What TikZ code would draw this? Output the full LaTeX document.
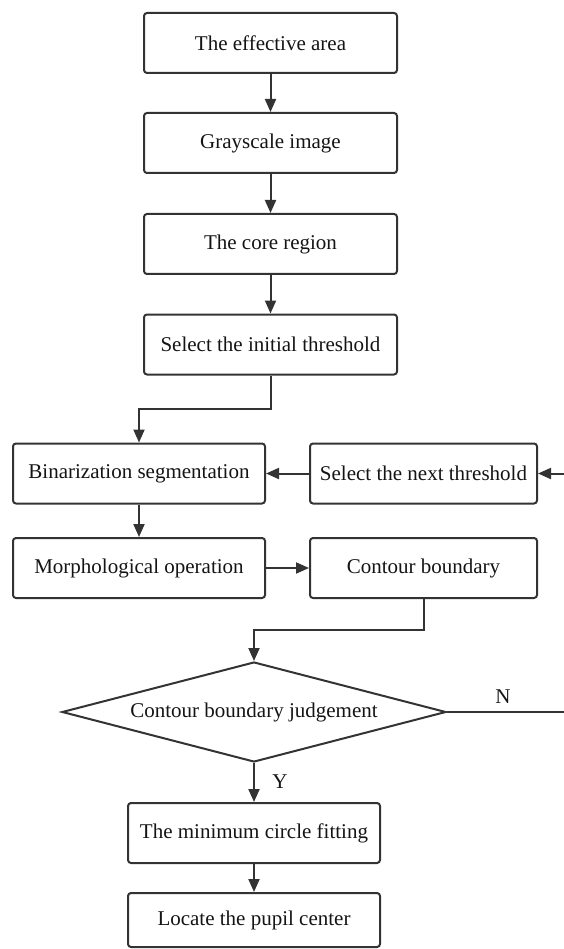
\documentclass[tikz,border=0pt]{standalone}
\usepackage{fontspec}
\setmainfont{Liberation Serif}
\usetikzlibrary{shapes.geometric,arrows.meta}
\definecolor{linegray}{HTML}{333333}
\definecolor{textgray}{HTML}{141414}
\begin{document}
\begin{tikzpicture}[x=1pt,y=-1pt,
  stepbox/.style={draw=linegray,line width=2pt,rounded corners=3pt,inner sep=0pt,
    minimum height=60pt,text=textgray,font=\fontsize{21}{25}\selectfont},
  decide/.style={draw=linegray,line width=2pt,shape=diamond,aspect=3.84,inner sep=0pt,
    minimum width=384pt,minimum height=100pt,text=textgray,font=\fontsize{21}{25}\selectfont},
  arr/.style={draw=linegray,line width=2pt,-{Triangle[length=13pt,width=11pt]}},
  lbl/.style={text=textgray,font=\fontsize{21}{25}\selectfont,inner sep=0pt}]
\useasboundingbox (0,0) rectangle (564,949);
\clip (0,0) rectangle (564,949);

\node[stepbox,minimum width=253pt] (area) at (270.5,43) {The effective area};
\node[stepbox,minimum width=253pt] (gray) at (270.5,143) {Grayscale image};
\node[stepbox,minimum width=253pt] (core) at (270.5,244) {The core region};
\node[stepbox,minimum width=253pt] (init) at (270.5,344.5) {Select the initial threshold};

\node[stepbox,minimum width=252pt] (bin) at (139,473.5) {Binarization segmentation};
\node[stepbox,minimum width=227pt] (next) at (423.5,473.5) {Select the next threshold};
\node[stepbox,minimum width=252pt] (morph) at (139,568) {Morphological operation};
\node[stepbox,minimum width=227pt] (cont) at (423.5,568) {Contour boundary};

\node[decide] (judge) at (254,712) {Contour boundary judgement};

\node[stepbox,minimum width=252pt] (fit) at (254,833) {The minimum circle fitting};
\node[stepbox,minimum width=252pt,minimum height=54pt] (pupil) at (254,920) {Locate the pupil center};

\node[lbl] (no) at (503,697) {N};
\node[lbl] (yes) at (280,782) {Y};
\coordinate (edge) at (580,0);

\draw[arr] (area) -- (gray);
\draw[arr] (gray) -- (core);
\draw[arr] (core) -- (init);
\draw[arr] (init.south) -- ++(0,33) -| (bin.north);
\draw[arr] (next) -- (bin);
\draw[arr] (bin) -- (morph);
\draw[arr] (morph) -- (cont);
\draw[arr] (cont.south) -- ++(0,31) -| (judge.north);
\draw[arr] (judge.east) -- (judge.east -| edge) |- (next.east);
\draw[arr] (judge.south) -- (fit.north);
\draw[arr] (fit) -- (pupil);
\end{tikzpicture}
\end{document}
